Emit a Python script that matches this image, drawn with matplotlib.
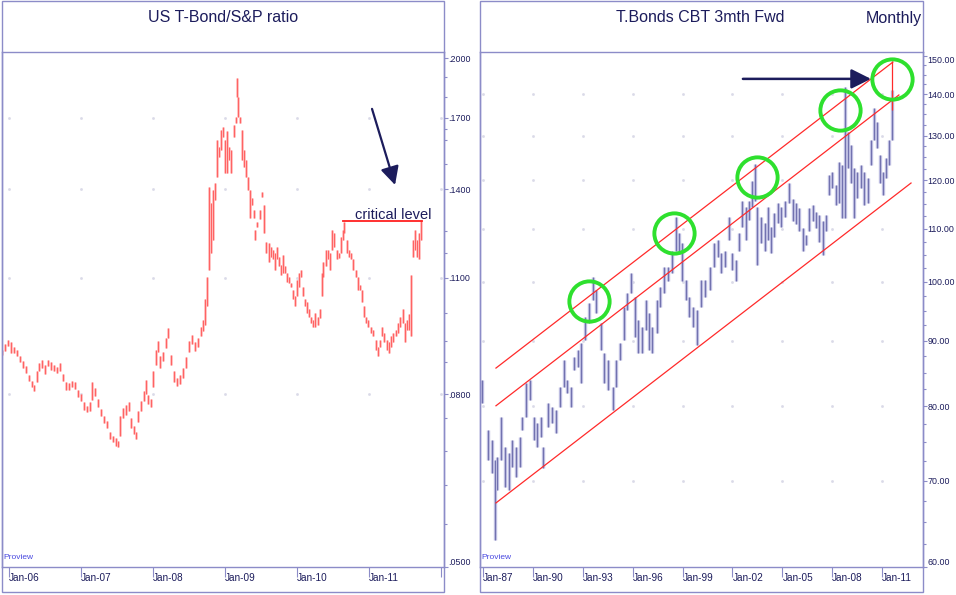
import numpy as np
import matplotlib
matplotlib.use('Agg')
import matplotlib.pyplot as plt
from matplotlib.patches import Rectangle
from matplotlib.ticker import NullFormatter

plt.rcParams['font.family'] = ['Liberation Sans Narrow', 'Liberation Sans', 'DejaVu Sans']

# ---- left panel: US T-Bond / S&P ratio (dates as decimal years) ----
ratio_t = [2005.90, 2005.94, 2005.99, 2006.03, 2006.07, 2006.11, 2006.15, 2006.19, 2006.24, 2006.28,
           2006.32, 2006.35, 2006.38, 2006.42, 2006.46, 2006.50, 2006.54, 2006.58, 2006.625, 2006.67,
           2006.71, 2006.75, 2006.79, 2006.83, 2006.875, 2006.92, 2006.96, 2007.00, 2007.04, 2007.08,
           2007.125, 2007.15, 2007.19, 2007.24, 2007.28, 2007.32, 2007.36, 2007.40, 2007.44, 2007.49,
           2007.51, 2007.54, 2007.58, 2007.625, 2007.67, 2007.69, 2007.74, 2007.76, 2007.79, 2007.83,
           2007.875, 2007.90, 2007.93, 2007.97, 2008.00, 2008.04, 2008.07, 2008.10, 2008.14, 2008.18,
           2008.21, 2008.25, 2008.29, 2008.33, 2008.375, 2008.42, 2008.46, 2008.50, 2008.54, 2008.58,
           2008.625, 2008.67, 2008.69, 2008.72, 2008.75, 2008.78, 2008.81, 2008.83, 2008.86, 2008.89,
           2008.92, 2008.94, 2008.97, 2009.00, 2009.03, 2009.06, 2009.08, 2009.125, 2009.15, 2009.17,
           2009.18, 2009.21, 2009.24, 2009.26, 2009.29, 2009.32, 2009.35, 2009.375, 2009.40, 2009.42,
           2009.44, 2009.49, 2009.51, 2009.54, 2009.57, 2009.61, 2009.64, 2009.67, 2009.69, 2009.72,
           2009.75, 2009.78, 2009.81, 2009.83, 2009.86, 2009.89, 2009.92, 2009.94, 2009.97, 2010.00,
           2010.03, 2010.06, 2010.08, 2010.11, 2010.14, 2010.17, 2010.19, 2010.22, 2010.25, 2010.29,
           2010.32, 2010.35, 2010.36, 2010.40, 2010.43, 2010.46, 2010.49, 2010.51, 2010.56, 2010.58,
           2010.61, 2010.64, 2010.65, 2010.69, 2010.72, 2010.75, 2010.78, 2010.82, 2010.85, 2010.875,
           2010.90, 2010.93, 2010.96, 2010.99, 2011.03, 2011.06, 2011.10, 2011.125, 2011.15, 2011.18,
           2011.21, 2011.25, 2011.28, 2011.31, 2011.33, 2011.375, 2011.40, 2011.43, 2011.47, 2011.50,
           2011.53, 2011.56, 2011.58, 2011.61, 2011.64, 2011.67, 2011.69, 2011.72]
ratio_hi = [.0904, .0917, .0929, .0922, .0911, .0904, .0888, .0876, .0864, .0844,
            .0830, .0820, .0852, .0871, .0880, .0866, .0878, .0873, .0866, .0863,
            .0871, .0846, .0828, .0825, .0830, .0828, .0810, .0800, .0783, .0776,
            .0783, .0828, .0814, .0791, .0769, .0755, .0745, .0722, .0714, .0710,
            .0704, .0755, .0771, .0778, .0783, .0751, .0735, .0722, .0764, .0785,
            .0807, .0832, .0798, .0791, .0852, .0904, .0925, .0888, .0899, .0934,
            .0958, .0892, .0852, .0837, .0844, .0861, .0885, .0925, .0942, .0922,
            .0934, .0961, .0980, .1037, .1102, .1408, .1347, .1396, .1424, .1602,
            .1571, .1643, .1656, .1602, .1638, .1571, .1557, .1665, .1702, .1897,
            .1800, .1702, .1643, .1557, .1515, .1445, .1396, .1365, .1321, .1254,
            .1279, .1321, .1388, .1339, .1213, .1209, .1196, .1186, .1177, .1196,
            .1164, .1140, .1170, .1134, .1115, .1103, .1083, .1063, .1046, .1093,
            .1115, .1124, .1072, .1037, .1028, .1009, .0988, .0980, .1000, .0988,
            .1009, .1115, .1147, .1186, .1186, .1177, .1254, .1243, .1186, .1177,
            .1230, .1254, .1279, .1219, .1186, .1177, .1156, .1124, .1103, .1077,
            .1063, .1017, .0988, .0980, .0961, .0954, .0929, .0911, .0929, .0961,
            .0947, .0929, .0922, .0937, .0947, .0954, .0972, .0988, .1009, .0972,
            .0980, .0995, .1109, .1219, .1254, .1219, .1243, .1286]
ratio_lo = [.0890, .0901, .0914, .0896, .0896, .0888, .0873, .0861, .0848, .0830,
            .0817, .0807, .0828, .0852, .0861, .0846, .0864, .0856, .0852, .0849,
            .0854, .0831, .0810, .0810, .0817, .0812, .0794, .0787, .0767, .0762,
            .0765, .0789, .0796, .0774, .0755, .0741, .0731, .0708, .0702, .0696,
            .0693, .0714, .0751, .0757, .0765, .0731, .0718, .0708, .0743, .0765,
            .0785, .0800, .0780, .0774, .0817, .0868, .0899, .0861, .0876, .0909,
            .0934, .0868, .0828, .0818, .0824, .0837, .0861, .0899, .0917, .0901,
            .0911, .0937, .0950, .0966, .1017, .1124, .1177, .1219, .1358, .1445,
            .1528, .1557, .1615, .1461, .1461, .1515, .1461, .1615, .1675, .1800,
            .1702, .1675, .1515, .1486, .1445, .1396, .1295, .1339, .1295, .1219,
            .1261, .1292, .1369, .1243, .1177, .1147, .1164, .1156, .1124, .1156,
            .1134, .1109, .1115, .1115, .1086, .1083, .1072, .1037, .1017, .1046,
            .1072, .1103, .1046, .1017, .1000, .0988, .0972, .0961, .0961, .0966,
            .0985, .1046, .1103, .1134, .1156, .1124, .1186, .1196, .1156, .1161,
            .1177, .1219, .1243, .1177, .1164, .1156, .1124, .1103, .1063, .1063,
            .1028, .0988, .0972, .0961, .0947, .0937, .0904, .0888, .0911, .0937,
            .0922, .0904, .0896, .0911, .0922, .0937, .0947, .0961, .0972, .0922,
            .0954, .0954, .0937, .1164, .1186, .1164, .1156, .1219]

ratio_ticks = [0.05, 0.08, 0.11, 0.14, 0.17, 0.20]
ratio_minor = [0.19, 0.18, 0.165, 0.16, 0.15, 0.125, 0.1175, 0.10, 0.0925, 0.0875,
               0.075, 0.0685, 0.0625, 0.0562]
ratio_years = [2006, 2007, 2008, 2009, 2010, 2011, 2012]
ratio_year_labels = ['Jan-06', 'Jan-07', 'Jan-08', 'Jan-09', 'Jan-10', 'Jan-11', '']
critical_level = 0.1284
critical_span = [2010.64, 2011.74]

# ---- right panel: T.Bonds CBT 3mth Fwd, monthly (sampled highs / lows) ----
bond_t = [1986.94, 1987.30, 1987.54, 1987.72, 1987.84, 1988.08, 1988.32, 1988.56, 1988.74, 1988.98,
          1989.22, 1989.35, 1989.59, 1989.83, 1990.07, 1990.25, 1990.49, 1990.61, 1990.91, 1991.15,
          1991.39, 1991.63, 1991.87, 1992.05, 1992.29, 1992.47, 1992.71, 1992.89, 1993.13, 1993.37,
          1993.61, 1993.79, 1994.10, 1994.28, 1994.52, 1994.82, 1995.00, 1995.24, 1995.48, 1995.66,
          1995.90, 1996.14, 1996.32, 1996.56, 1996.80, 1996.98, 1997.16, 1997.46, 1997.64, 1997.88,
          1998.12, 1998.36, 1998.61, 1998.79, 1998.97, 1999.21, 1999.39, 1999.63, 1999.87, 2000.11,
          2000.35, 2000.65, 2000.89, 2001.13, 2001.31, 2001.55, 2001.79, 2001.97, 2002.21, 2002.39,
          2002.57, 2002.81, 2003.00, 2003.18, 2003.36, 2003.48, 2003.72, 2003.96, 2004.14, 2004.32,
          2004.50, 2004.74, 2004.92, 2005.16, 2005.40, 2005.64, 2005.82, 2006.00, 2006.24, 2006.42,
          2006.60, 2006.84, 2007.02, 2007.20, 2007.44, 2007.63, 2007.81, 2007.99, 2008.23, 2008.41,
          2008.59, 2008.77, 2008.95, 2009.13, 2009.31, 2009.49, 2009.73, 2009.91, 2010.15, 2010.33,
          2010.51, 2010.69, 2010.87, 2011.05, 2011.23, 2011.41, 2011.59]
bond_hi = [83.9, 76.7, 75.3, 72.7, 73.1, 78.5, 74.4, 73.6, 75.3, 74.4,
           75.7, 78.5, 83.4, 83.9, 78.5, 77.7, 78.5, 74.4, 80.5, 79.9,
           79.5, 82.8, 86.9, 83.9, 82.8, 87.4, 88.5, 89.6, 93.9, 96.3,
           100.9, 98.5, 92.9, 88.0, 86.9, 82.8, 86.9, 89.6, 95.6, 98.0,
           101.6, 97.3, 93.4, 92.2, 96.8, 94.6, 92.2, 96.8, 99.1, 102.7,
           102.7, 105.7, 112.3, 109.1, 107.2, 100.3, 97.3, 95.6, 95.1, 100.3,
           100.3, 102.7, 107.2, 107.8, 105.3, 105.7, 112.3, 105.3, 104.0, 109.1,
           115.7, 114.3, 115.7, 119.9, 123.5, 114.3, 112.3, 111.1, 114.3, 110.3,
           113.1, 115.2, 114.3, 115.7, 119.5, 116.0, 115.3, 114.1, 110.1, 108.8,
           114.1, 114.8, 113.3, 112.7, 111.5, 112.7, 121.1, 121.7, 118.9, 124.0,
           123.3, 141.8, 130.8, 127.8, 122.6, 121.7, 123.3, 121.7, 120.4, 129.0,
           136.5, 133.2, 125.5, 121.7, 124.8, 129.0, 141.0]
bond_lo = [80.5, 72.7, 71.0, 63.0, 68.9, 72.7, 69.3, 68.9, 71.8, 70.5,
           71.8, 76.7, 78.5, 80.9, 75.3, 74.4, 75.7, 71.6, 77.1, 77.7,
           76.3, 79.9, 82.8, 81.9, 79.9, 85.4, 85.9, 83.4, 90.1, 92.9,
           96.8, 94.6, 88.5, 83.4, 82.4, 79.5, 82.8, 86.9, 90.1, 95.1,
           98.0, 90.6, 88.0, 88.0, 91.7, 88.5, 88.0, 91.2, 95.6, 98.0,
           100.2, 101.6, 105.7, 105.3, 100.2, 96.8, 93.9, 92.2, 89.3, 95.6,
           97.3, 98.5, 102.7, 104.5, 101.6, 102.7, 107.8, 102.1, 100.2, 105.7,
           110.3, 107.8, 111.7, 114.3, 115.7, 103.1, 107.2, 105.7, 107.8, 105.3,
           108.4, 111.1, 110.3, 112.3, 115.3, 111.5, 110.9, 109.6, 105.7, 106.8,
           109.6, 111.5, 110.1, 107.4, 104.9, 109.6, 116.8, 118.3, 114.8, 115.3,
           112.1, 112.1, 122.6, 119.5, 112.1, 116.2, 118.3, 114.8, 115.3, 123.3,
           129.0, 127.1, 119.5, 116.8, 120.4, 123.3, 129.0]

bond_ticks = [60, 70, 80, 90, 100, 110, 120, 130, 140, 150]
bond_years = [1987, 1990, 1993, 1996, 1999, 2002, 2005, 2008, 2011]
bond_year_labels = ['Jan-87', 'Jan-90', 'Jan-93', 'Jan-96', 'Jan-99', 'Jan-02', 'Jan-05', 'Jan-08', 'Jan-11']

# trend channel (start / end points) and the circled highs
channel_t = [[1987.78, 2011.65], [1987.78, 2012.01], [1987.78, 2012.74]]
channel_v = [[85.7, 148.3], [80.1, 139.8], [67.3, 119.4]]
last_bar_t, last_bar_v = 2011.59, [136.1, 148.6]
circle_t = [1993.40, 1998.49, 2003.48, 2008.47, 2011.59]
circle_v = [96.6, 109.2, 120.7, 136.1, 143.9]

FRAME = '#8c8cc8'
NAVY = '#1c1c5c'
W, H = 956, 595

fig = plt.figure(figsize=(W / 100, H / 100), dpi=100)
fig.patch.set_facecolor('white')

# panel frames
for x0, x1 in [(2, 444), (480, 923)]:
    fig.add_artist(Rectangle((x0 / W, 3 / H), (x1 - x0) / W, 591.5 / H, fill=False,
                             ec=FRAME, lw=1, transform=fig.transFigure))

axL = fig.add_axes([2 / W, 28 / H, 442 / W, 515 / H])
axR = fig.add_axes([480 / W, 28 / H, 443 / W, 515 / H])


def style_axis(ax, yticks, yminor, fmt, xticks, xlabels):
    ax.set_yscale('log')
    for s in ax.spines.values():
        s.set_color(FRAME)
        s.set_linewidth(1)
    ax.yaxis.tick_right()
    ax.set_yticks(yticks, [fmt(v) for v in yticks])
    ax.set_yticks(yminor, minor=True)
    ax.yaxis.set_minor_formatter(NullFormatter())
    ax.tick_params(axis='y', which='major', direction='out', length=2.8, width=0.8,
                   color=FRAME, labelcolor=NAVY, labelsize=6.4, pad=0.4)
    ax.tick_params(axis='y', which='minor', direction='out', length=2, width=0.8, color=FRAME)
    ax.set_xticks(xticks, xlabels)
    ax.tick_params(axis='x', direction='out', length=7, width=0.8, color=FRAME,
                   labelcolor=NAVY, labelsize=7.2, pad=-3)
    for lbl in ax.get_xticklabels():
        lbl.set_ha('left')
    ylabels = ax.get_yticklabels()
    ylabels[0].set_va('bottom')
    # faint grid dots at the major tick crossings
    gx, gy = np.meshgrid(xticks, yticks[1:-1])
    ax.plot(gx.ravel(), gy.ravel(), ls='none', marker='s', ms=0.9, color='#dadae8', zorder=0)
    ax.text(0.003, 0.018, 'Proview', transform=ax.transAxes, fontsize=6, color='#4848e0',
            ha='left', va='center')


# left panel
axL.set_xlim(2005.90, 2012.04)
axL.set_ylim(0.05, 0.2034)
style_axis(axL, ratio_ticks, ratio_minor, lambda v: f'{v:.4f}'[1:], ratio_years, ratio_year_labels)
axL.vlines(ratio_t, ratio_lo, ratio_hi, colors='#ffb6b6', lw=1.9)
axL.vlines(ratio_t, ratio_lo, ratio_hi, colors='#ff3a3a', lw=0.6, alpha=0.8)
axL.plot(critical_span, [critical_level, critical_level], color='#ff2020', lw=1.3)
axL.text(2010.80, critical_level * 1.004, 'critical level', fontsize=10.5, color=NAVY,
         ha='left', va='baseline')
axL.annotate('', xy=(2011.36, 0.1416), xytext=(2011.04, 0.1742),
             arrowprops=dict(arrowstyle='-|>,head_length=0.55,head_width=0.28', color=NAVY,
                             lw=1.6, mutation_scale=20, shrinkA=0, shrinkB=0))

# right panel
axR.set_xlim(1986.82, 2013.46)
axR.set_ylim(60, 151.0)
style_axis(axR, bond_ticks, [v for v in np.arange(62.5, 150, 2.5) if v % 10],
           lambda v: f'{v:.2f}', bond_years, bond_year_labels)
axR.get_yticklabels()[-1].set_va('top')
axR.vlines(bond_t, bond_lo, bond_hi, colors='#bcbce0', lw=2.4)
axR.vlines(bond_t, bond_lo, bond_hi, colors='#3c3c8c', lw=0.55, alpha=0.75)
for ct, cv in zip(channel_t, channel_v):
    axR.plot(ct, cv, color='#ff2a2a', lw=0.9)
axR.vlines(last_bar_t, last_bar_v[0], last_bar_v[1], colors='#ff2a2a', lw=0.9)
axR.plot(circle_t, circle_v, ls='none', marker='o', ms=29, mfc='none', mec='#2ee02e',
         mew=2.8, clip_on=False)
axR.annotate('', xy=(2010.33, 143.9), xytext=(2002.63, 143.9),
             arrowprops=dict(arrowstyle='-|>,head_length=0.6,head_width=0.3', color=NAVY,
                             lw=1.8, mutation_scale=20, shrinkA=0, shrinkB=0))

# titles
fig.text(223 / W, 1 - 17 / H, 'US T-Bond/S&P ratio', ha='center', va='center', fontsize=11.5, color=NAVY)
fig.text(700 / W, 1 - 17 / H, 'T.Bonds CBT 3mth Fwd', ha='center', va='center', fontsize=11.5, color=NAVY)
fig.text(922 / W, 1 - 18 / H, 'Monthly', ha='right', va='center', fontsize=11.5, color=NAVY)

fig.savefig('out.png', dpi=100, facecolor='white')
